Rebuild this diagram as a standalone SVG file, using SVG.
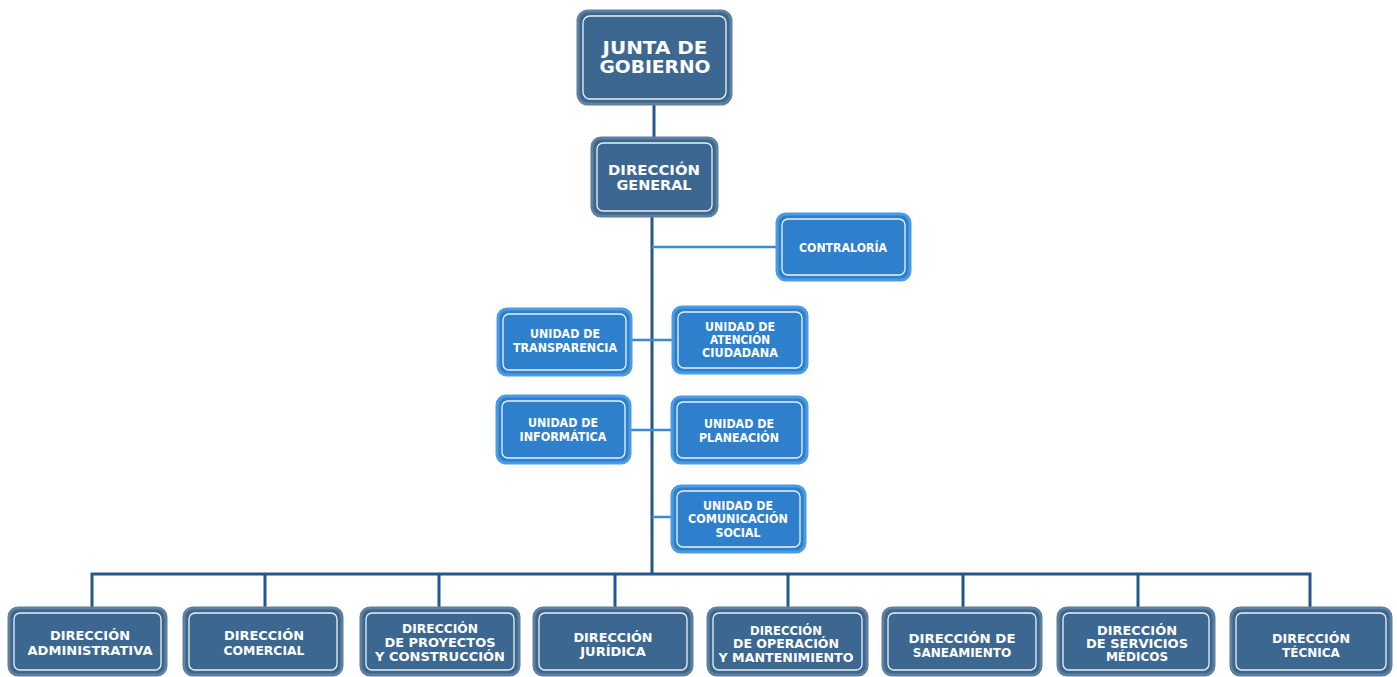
<svg xmlns="http://www.w3.org/2000/svg" width="1397" height="677" viewBox="0 0 1397 677">
<style>
.dk{fill:#3b6791;stroke:#5f7f9e;stroke-width:3}
.lt{fill:#2f80cc;stroke:#4a9be6;stroke-width:3}
.in{fill:none;stroke:#ffffff;stroke-width:1.3;opacity:0.9}
text{font-family:"DejaVu Sans","Liberation Sans",sans-serif;font-weight:bold;fill:#ffffff;text-anchor:middle}
.t1{font-size:17px}
.t2{font-size:14px}
.t3{font-size:13px}
.t3s{font-size:12px}
.t4{font-size:11.5px}
.main{stroke:#25578a;stroke-width:3;fill:none}
.sub{stroke:#3b8ad6;stroke-width:2.5;fill:none}
</style>
<rect width="1397" height="677" fill="#ffffff"/>
<g id="connectors">
<line class="main" x1="654" y1="104" x2="654" y2="137"/>
<line class="main" x1="652" y1="216" x2="652" y2="574"/>
<line class="sub" x1="652" y1="247" x2="776" y2="247"/>
<line class="sub" x1="630" y1="340" x2="673" y2="340"/>
<line class="sub" x1="628" y1="430" x2="672" y2="430"/>
<line class="sub" x1="652" y1="517" x2="672" y2="517"/>
<polyline class="main" points="92,608 92,574 1310,574 1310,608"/>
<line class="main" x1="265" y1="574" x2="265" y2="608"/>
<line class="main" x1="439" y1="574" x2="439" y2="608"/>
<line class="main" x1="615" y1="574" x2="615" y2="608"/>
<line class="main" x1="788" y1="574" x2="788" y2="608"/>
<line class="main" x1="963" y1="574" x2="963" y2="608"/>
<line class="main" x1="1138" y1="574" x2="1138" y2="608"/>
</g>
<g id="junta">
<rect class="dk" x="578" y="11" width="153" height="93" rx="10"/>
<rect class="in" x="583" y="16" width="143" height="83" rx="7"/>
<text class="t1" x="655" y="54" textLength="105" lengthAdjust="spacingAndGlyphs">JUNTA DE</text>
<text class="t1" x="655" y="73" textLength="111" lengthAdjust="spacingAndGlyphs">GOBIERNO</text>
</g>
<g id="direccion-general">
<rect class="dk" x="592" y="138" width="125" height="78" rx="9"/>
<rect class="in" x="597" y="143" width="115" height="68" rx="6"/>
<text class="t2" x="654" y="175" textLength="92" lengthAdjust="spacingAndGlyphs">DIRECCIÓN</text>
<text class="t2" x="654" y="190" textLength="75" lengthAdjust="spacingAndGlyphs">GENERAL</text>
</g>
<g id="contraloria">
<rect class="lt" x="777" y="214" width="133" height="66" rx="9"/>
<rect class="in" x="782" y="219" width="123" height="56" rx="6"/>
<text class="t4" x="843" y="252" textLength="88" lengthAdjust="spacingAndGlyphs">CONTRALORÍA</text>
</g>
<g id="transparencia">
<rect class="lt" x="498" y="309" width="133" height="66" rx="9"/>
<rect class="in" x="503" y="314" width="123" height="56" rx="6"/>
<text class="t4" x="565" y="338" textLength="70" lengthAdjust="spacingAndGlyphs">UNIDAD DE</text>
<text class="t4" x="565" y="352" textLength="104" lengthAdjust="spacingAndGlyphs">TRANSPARENCIA</text>
</g>
<g id="atencion">
<rect class="lt" x="673" y="307" width="134" height="66" rx="9"/>
<rect class="in" x="678" y="312" width="124" height="56" rx="6"/>
<text class="t4" x="740" y="331" textLength="70" lengthAdjust="spacingAndGlyphs">UNIDAD DE</text>
<text class="t4" x="740" y="344" textLength="60" lengthAdjust="spacingAndGlyphs">ATENCIÓN</text>
<text class="t4" x="740" y="357" textLength="76" lengthAdjust="spacingAndGlyphs">CIUDADANA</text>
</g>
<g id="informatica">
<rect class="lt" x="497" y="396" width="133" height="67" rx="9"/>
<rect class="in" x="502" y="401" width="123" height="57" rx="6"/>
<text class="t4" x="563" y="427" textLength="70" lengthAdjust="spacingAndGlyphs">UNIDAD DE</text>
<text class="t4" x="563" y="441" textLength="87" lengthAdjust="spacingAndGlyphs">INFORMÁTICA</text>
</g>
<g id="planeacion">
<rect class="lt" x="672" y="397" width="135" height="66" rx="9"/>
<rect class="in" x="677" y="402" width="125" height="56" rx="6"/>
<text class="t4" x="739" y="428" textLength="70" lengthAdjust="spacingAndGlyphs">UNIDAD DE</text>
<text class="t4" x="739" y="442" textLength="80" lengthAdjust="spacingAndGlyphs">PLANEACIÓN</text>
</g>
<g id="comunicacion">
<rect class="lt" x="672" y="486" width="133" height="66" rx="9"/>
<rect class="in" x="677" y="491" width="123" height="56" rx="6"/>
<text class="t4" x="738" y="510" textLength="70" lengthAdjust="spacingAndGlyphs">UNIDAD DE</text>
<text class="t4" x="738" y="523" textLength="100" lengthAdjust="spacingAndGlyphs">COMUNICACIÓN</text>
<text class="t4" x="738" y="537" textLength="45" lengthAdjust="spacingAndGlyphs">SOCIAL</text>
</g>
<g id="dir-administrativa">
<rect class="dk" x="9" y="608" width="157" height="67" rx="9"/>
<rect class="in" x="14" y="613" width="147" height="57" rx="6"/>
<text class="t3" x="90" y="640" textLength="80" lengthAdjust="spacingAndGlyphs">DIRECCIÓN</text>
<text class="t3" x="90" y="655" textLength="125" lengthAdjust="spacingAndGlyphs">ADMINISTRATIVA</text>
</g>
<g id="dir-comercial">
<rect class="dk" x="184" y="608" width="158" height="67" rx="9"/>
<rect class="in" x="189" y="613" width="148" height="57" rx="6"/>
<text class="t3" x="264" y="640" textLength="80" lengthAdjust="spacingAndGlyphs">DIRECCIÓN</text>
<text class="t3" x="264" y="655" textLength="81" lengthAdjust="spacingAndGlyphs">COMERCIAL</text>
</g>
<g id="dir-proyectos">
<rect class="dk" x="361" y="608" width="158" height="67" rx="9"/>
<rect class="in" x="366" y="613" width="148" height="57" rx="6"/>
<text class="t3" x="440" y="633" textLength="76" lengthAdjust="spacingAndGlyphs">DIRECCIÓN</text>
<text class="t3" x="440" y="647" textLength="111" lengthAdjust="spacingAndGlyphs">DE PROYECTOS</text>
<text class="t3" x="440" y="661" textLength="130" lengthAdjust="spacingAndGlyphs">Y CONSTRUCCIÓN</text>
</g>
<g id="dir-juridica">
<rect class="dk" x="534" y="608" width="158" height="67" rx="9"/>
<rect class="in" x="539" y="613" width="148" height="57" rx="6"/>
<text class="t3" x="613" y="642" textLength="79" lengthAdjust="spacingAndGlyphs">DIRECCIÓN</text>
<text class="t3" x="613" y="656">JURÍDICA</text>
</g>
<g id="dir-operacion">
<rect class="dk" x="708" y="608" width="159" height="67" rx="9"/>
<rect class="in" x="713" y="613" width="149" height="57" rx="6"/>
<text class="t3" x="786" y="635" textLength="72" lengthAdjust="spacingAndGlyphs">DIRECCIÓN</text>
<text class="t3" x="786" y="648" textLength="106" lengthAdjust="spacingAndGlyphs">DE OPERACIÓN</text>
<text class="t3" x="786" y="662" textLength="135" lengthAdjust="spacingAndGlyphs">Y MANTENIMIENTO</text>
</g>
<g id="dir-saneamiento">
<rect class="dk" x="883" y="608" width="158" height="67" rx="9"/>
<rect class="in" x="888" y="613" width="148" height="57" rx="6"/>
<text class="t3" x="962" y="643" textLength="107" lengthAdjust="spacingAndGlyphs">DIRECCIÓN DE</text>
<text class="t3s" x="962" y="657">SANEAMIENTO</text>
</g>
<g id="dir-servicios-medicos">
<rect class="dk" x="1058" y="608" width="156" height="67" rx="9"/>
<rect class="in" x="1063" y="613" width="146" height="57" rx="6"/>
<text class="t3" x="1137" y="635" textLength="80" lengthAdjust="spacingAndGlyphs">DIRECCIÓN</text>
<text class="t3" x="1137" y="648" textLength="102" lengthAdjust="spacingAndGlyphs">DE SERVICIOS</text>
<text class="t3s" x="1137" y="661">MÉDICOS</text>
</g>
<g id="dir-tecnica">
<rect class="dk" x="1231" y="608" width="160" height="67" rx="9"/>
<rect class="in" x="1236" y="613" width="150" height="57" rx="6"/>
<text class="t3" x="1311" y="643" textLength="78" lengthAdjust="spacingAndGlyphs">DIRECCIÓN</text>
<text class="t3s" x="1311" y="657">TÉCNICA</text>
</g>
</svg>
